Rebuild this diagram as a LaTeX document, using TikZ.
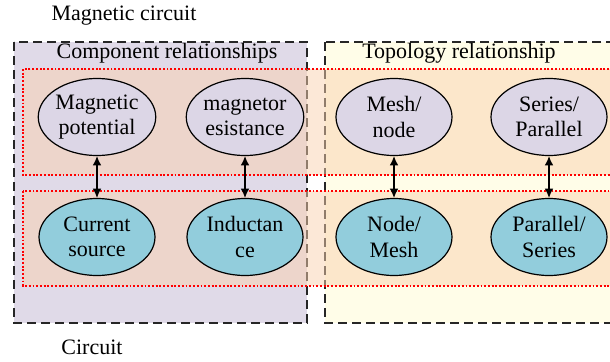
\documentclass[tikz,border=0pt]{standalone}
\usepackage{fontspec}
\setmainfont{Liberation Serif}
\usetikzlibrary{arrows,arrows.meta,shapes}
\definecolor{lavender}{HTML}{E0DAE8}
\definecolor{paleyellow}{HTML}{FFFDE8}
\definecolor{peach}{HTML}{FAD2B0}
\definecolor{magfill}{HTML}{DCD6E6}
\definecolor{elecfill}{HTML}{92CDDC}

\begin{document}
\begin{tikzpicture}[x=0.75pt,y=-0.75pt,>={Latex[length=7pt,width=6.5pt]},
        font=\fontsize{16.5}{19}\selectfont,
        groupbox/.style={draw=black!85,line width=1.1pt,dash pattern=on 6.5pt off 4pt},
        levelband/.style={draw=red,line width=0.9pt,dash pattern=on 1.4pt off 1.4pt,
                fill=peach,fill opacity=0.5,draw opacity=1},
        magnet/.style={ellipse,draw,line width=0.9pt,fill=magfill,align=center,
                minimum width=87pt,minimum height=57.75pt,inner sep=0pt},
        elec/.style={magnet,fill=elecfill}]
        \useasboundingbox (0,0) rectangle (610,361);

        % draw the two groups
        \filldraw[groupbox,fill=lavender] (14,42) rectangle (307,323);
        \filldraw[groupbox,fill=paleyellow] (325,42) rectangle (630,323);

        % draw the two levels
        \filldraw[levelband] (23,69) rectangle (630,175);
        \filldraw[levelband] (23,191) rectangle (630,286);

        % draw the titles
        \node (magtitle) at (124,16) {Magnetic circuit};
        \node (comptitle) at (167,53) {Component relationships};
        \node (topotitle) at (459,53) {Topology relationship};
        \node (circtitle) at (92,347) {Circuit};

        % magnetic circuit quantities
        \node[magnet] (mpot) at (97,117) {Magnetic\\potential};
        \node[magnet] (mres) at (245,117) {magnetor\\esistance};
        \node[magnet] (mesh) at (394,117) {Mesh/\\node};
        \node[magnet] (serpar) at (549,117) {Series/\\Parallel};

        % circuit quantities
        \node[elec] (csrc) at (97,237) {Current\\source};
        \node[elec] (induc) at (245,237) {Inductan\\ce};
        \node[elec] (nodemesh) at (394,237) {Node/\\Mesh};
        \node[elec] (parser) at (549,237) {Parallel/\\Series};

        % draw the correspondences
        \foreach \a/\b in {mpot/csrc,mres/induc,mesh/nodemesh,serpar/parser}
                \draw[<->,line width=0.9pt] (\a) -- (\b);
\end{tikzpicture}
\end{document}
